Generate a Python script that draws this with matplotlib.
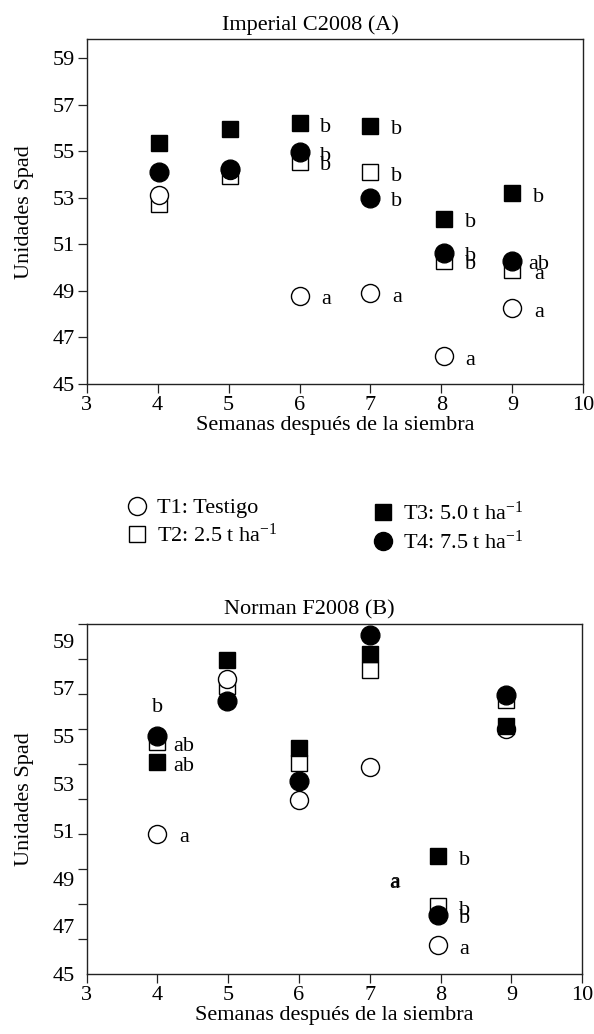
import matplotlib
matplotlib.use("Agg")
import matplotlib.pyplot as plt
from matplotlib.lines import Line2D

plt.rcParams["font.family"] = ["Liberation Serif", "DejaVu Serif"]
plt.rcParams["mathtext.fontset"] = "custom"
plt.rcParams["mathtext.rm"] = "Liberation Serif"
plt.rcParams["mathtext.it"] = "Liberation Serif:italic"
FS = 16
plt.rcParams["font.size"] = FS

# --- data (SPAD units per week) ---
a_weeks = [4.02, 5.02, 6.0, 7.0, 8.04, 9.0]
a_t1 = [53.1, 54.2, 48.8, 48.9, 46.2, 48.25]
a_t2 = [52.75, 53.95, 54.55, 54.1, 50.3, 49.9]
a_t3 = [55.35, 55.95, 56.2, 56.1, 52.1, 53.2]
a_t4 = [54.1, 54.25, 54.95, 53.0, 50.65, 50.3]
a_t1_lab = ["", "", "a", "a", "a", "a"]
a_t2_lab = ["", "", "b", "b", "b", "a"]
a_t3_lab = ["", "", "b", "b", "b", "b"]
a_t4_lab = ["", "", "b", "b", "b", "ab"]

b_weeks = [4.0, 4.98, 6.0, 7.0, 7.96, 8.93]
b_t1 = [50.9, 57.4, 52.3, 53.7, 46.2, 55.3]
b_t2 = [54.75, 57.1, 53.85, 57.75, 47.85, 56.5]
b_t3 = [53.9, 58.2, 54.5, 58.45, 49.95, 55.4]
b_t4 = [55.0, 56.45, 53.1, 59.25, 47.5, 56.7]
b_t1_lab = ["a", "", "", "", "a", ""]
b_t2_lab = ["ab", "", "", "", "b", ""]
b_t3_lab = ["ab", "", "", "", "b", ""]
b_t4_lab = ["", "", "", "", "b", ""]
b_extra = [(4.0, 56.2, "b"), (7.35, 48.8, "a"), (7.36, 48.85, "a")]

ytick_vals = [45, 47, 49, 51, 53, 55, 57, 59]
b_minor = [45.0, 46.47, 47.94, 49.41, 50.88, 52.35, 53.82, 55.29, 56.76, 58.23, 59.7]

# drawing order: T2, T1, T3, T4  (index into series list, marker, face, size)
layers = [(1, "s", "white", 12), (0, "o", "white", 13),
          (2, "s", "black", 12), (3, "o", "black", 13.5)]


def draw_panel(ax, weeks, series, labels, title, ylim):
    for z, (i, marker, face, ms) in enumerate(layers):
        ax.plot(weeks, series[i], linestyle="none", marker=marker, ms=ms,
                mfc=face, mec="black", mew=1.0, zorder=3 + z)
        for x, y, t in zip(weeks, series[i], labels[i]):
            if t:
                ax.annotate(t, (x, y), xytext=(19, -3), textcoords="offset points",
                            ha="center", va="center", fontsize=FS)
    ax.set_xlim(3, 10)
    ax.set_ylim(*ylim)
    ax.set_xticks(range(3, 11))
    ax.set_title(title, fontsize=FS, pad=7, x=0.45)
    ax.set_xlabel("Semanas después de la siembra", fontsize=FS, labelpad=1)
    ax.set_ylabel("Unidades Spad", fontsize=FS)
    ax.yaxis.set_label_coords(-0.107, 0.5)
    for s in ax.spines.values():
        s.set_linewidth(1.0)
        s.set_color("#222222")
    ax.tick_params(direction="out", length=6.5, width=0.9, color="#222222",
                   labelsize=FS, pad=2)


fig = plt.figure(figsize=(5.94, 10.34), dpi=100)

ax1 = fig.add_axes([0.146, 0.6286, 0.836, 0.3332])
draw_panel(ax1, a_weeks, [a_t1, a_t2, a_t3, a_t4],
           [a_t1_lab, a_t2_lab, a_t3_lab, a_t4_lab],
           "Imperial C2008 (A)", (45, 59.8))
ax1.set_yticks(ytick_vals)

ax2 = fig.add_axes([0.146, 0.058, 0.834, 0.3385])
draw_panel(ax2, b_weeks, [b_t1, b_t2, b_t3, b_t4],
           [b_t1_lab, b_t2_lab, b_t3_lab, b_t4_lab],
           "Norman F2008 (B)", (45, 59.7))
ax2.set_yticks(ytick_vals)
ax2.tick_params(axis="y", which="major", length=0, pad=8.5)
ax2.set_yticks(b_minor, minor=True)
ax2.tick_params(axis="y", which="minor", length=6.5, width=0.9, color="#222222")
for x, y, t in b_extra:
    ax2.text(x, y, t, ha="center", va="center", fontsize=FS)

left_h = [
    Line2D([], [], ls="none", marker="o", ms=13, mfc="white", mec="black", label="T1: Testigo"),
    Line2D([], [], ls="none", marker="s", ms=12, mfc="white", mec="black", label="T2: 2.5 t ha$^{-1}$"),
]
right_h = [
    Line2D([], [], ls="none", marker="s", ms=12, mfc="black", mec="black", label="T3: 5.0 t ha$^{-1}$"),
    Line2D([], [], ls="none", marker="o", ms=13, mfc="black", mec="black", label="T4: 7.5 t ha$^{-1}$"),
]
common = dict(frameon=False, fontsize=FS, handletextpad=0.5, labelspacing=0.25,
              handlelength=0.8, borderpad=0, borderaxespad=0, loc="center left")
fig.legend(handles=left_h, bbox_to_anchor=(0.2155, 0.4947), **common)
fig.legend(handles=right_h, bbox_to_anchor=(0.63, 0.4895), **common)

fig.savefig("out.png", dpi=100)
